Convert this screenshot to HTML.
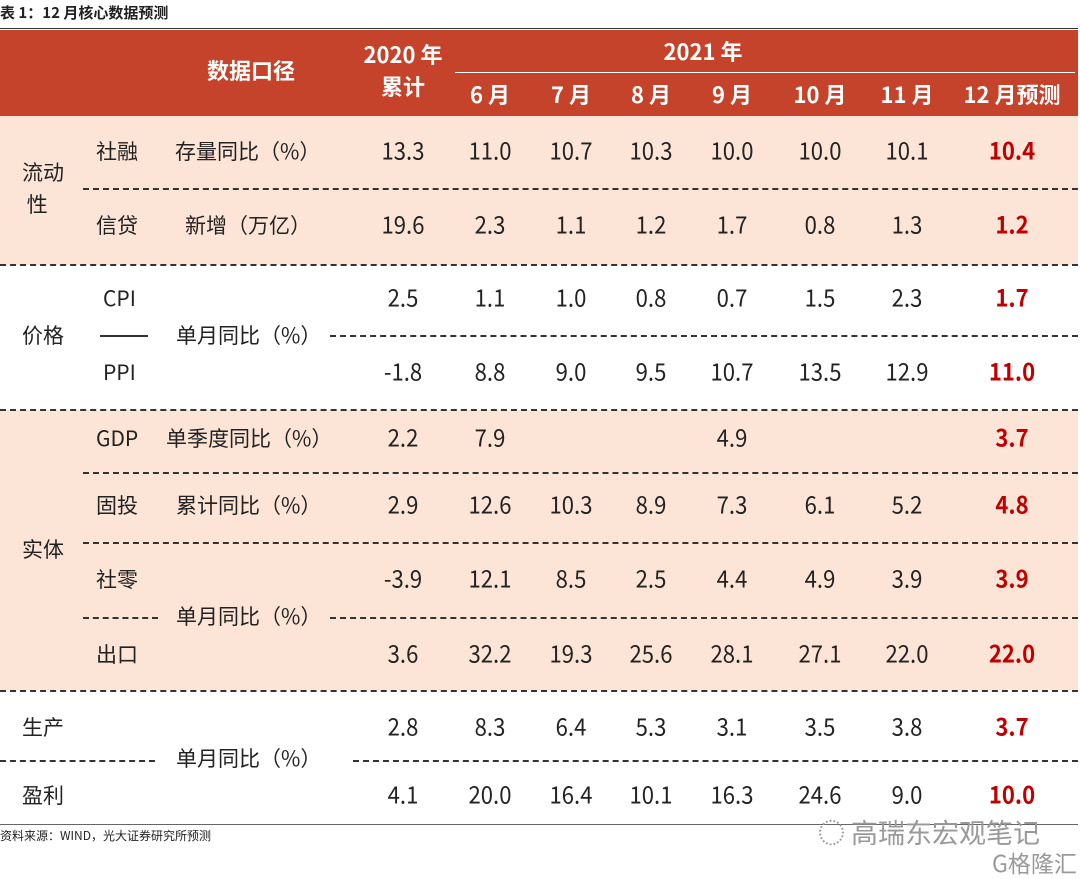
<!DOCTYPE html><html><head><meta charset="utf-8"><style>
body{margin:0;width:1080px;height:878px;background:#fff;position:relative;overflow:hidden;font-family:"Liberation Sans","Noto Sans CJK SC",sans-serif;color:#222}
.a{position:absolute;white-space:nowrap}
.c{transform:translateX(-50%);text-align:center}
.n{font-family:"Noto Sans CJK SC",sans-serif;font-size:24px;transform:translate(-50%,-50%) scaleX(0.92);margin-top:-2px}
.r{color:#c00000;font-weight:bold}
.h{color:#fff;font-weight:bold;font-size:22px;font-family:"Noto Sans CJK SC",sans-serif}
.l{position:absolute;height:0;border-top:2px solid #333}
.d{border-top-style:dashed}
.t{font-size:21px;transform:translateY(-50%);font-family:"Noto Sans CJK SC",sans-serif}
</style></head><body>
<div class="a" style="left:0;top:2px;font-size:15px;font-weight:bold;font-family:'Noto Sans CJK SC',sans-serif">表 1：12 月核心数据预测</div>
<div class="l" style="left:0;top:28px;width:1078px;border-top-width:1px"></div>
<div class="a" style="left:0;top:30px;width:1078px;height:86px;background:#c4432a"></div>
<div class="a" style="left:0;top:116px;width:1078px;height:149px;background:#fce4d6"></div>
<div class="a" style="left:0;top:410px;width:1078px;height:280px;background:#fce4d6"></div>
<div class="l" style="left:455px;top:72px;width:620px;border-top:1px solid #fff"></div>
<div class="a h" style="left:207px;top:54px">数据口径</div>
<div class="a h c" style="left:403px;top:38px;line-height:32px">2020 年<br>累计</div>
<div class="a h c" style="left:703px;top:35px">2021 年</div>
<div class="a h c" style="left:490px;top:78px">6 月</div>
<div class="a h c" style="left:571px;top:78px">7 月</div>
<div class="a h c" style="left:651px;top:78px">8 月</div>
<div class="a h c" style="left:732px;top:78px">9 月</div>
<div class="a h c" style="left:820px;top:78px">10 月</div>
<div class="a h c" style="left:907px;top:78px">11 月</div>
<div class="a h c" style="left:1012px;top:78px">12 月预测</div>

<div class="l d" style="left:83px;top:188px;width:995px"></div>
<div class="l d" style="left:0;top:264px;width:1078px"></div>
<div class="l" style="left:100px;top:335px;width:48px"></div>
<div class="l d" style="left:330px;top:335px;width:748px"></div>
<div class="l d" style="left:0;top:409px;width:1078px"></div>
<div class="l d" style="left:83px;top:472px;width:995px"></div>
<div class="l d" style="left:83px;top:542px;width:995px"></div>
<div class="l d" style="left:83px;top:617px;width:75px"></div>
<div class="l d" style="left:330px;top:617px;width:748px"></div>
<div class="l d" style="left:0;top:690px;width:1078px"></div>
<div class="l d" style="left:0;top:760px;width:155px"></div>
<div class="l d" style="left:353px;top:760px;width:725px"></div>
<div class="l" style="left:0;top:824px;width:1078px;border-top:1px solid #666"></div>

<div class="a" style="left:22px;top:156px;font-size:21px;line-height:32px;font-family:'Noto Sans CJK SC',sans-serif">流动<br>&nbsp;性</div>
<div class="a t" style="left:96px;top:151px">社融</div><div class="a t" style="left:175px;top:151px">存量同比（%）</div>
<div class="a t" style="left:96px;top:225px">信贷</div><div class="a t" style="left:185px;top:225px">新增（万亿）</div>
<div class="a t" style="left:22px;top:335px">价格</div>
<div class="a t" style="left:103px;top:298px">CPI</div><div class="a t" style="left:103px;top:372px">PPI</div>
<div class="a t" style="left:176px;top:335px">单月同比（%）</div>
<div class="a t" style="left:22px;top:549px">实体</div>
<div class="a t" style="left:96px;top:438px">GDP</div><div class="a t" style="left:166px;top:438px">单季度同比（%）</div>
<div class="a t" style="left:96px;top:505px">固投</div><div class="a t" style="left:176px;top:505px">累计同比（%）</div>
<div class="a t" style="left:96px;top:579px">社零</div><div class="a t" style="left:96px;top:654px">出口</div>
<div class="a t" style="left:176px;top:616px">单月同比（%）</div>
<div class="a t" style="left:22px;top:727px">生产</div><div class="a t" style="left:22px;top:795px">盈利</div>
<div class="a t" style="left:176px;top:758px">单月同比（%）</div>

<div id="g"></div>
<div class="a" style="left:0;top:827px;font-size:12px;font-family:'Noto Sans CJK SC',sans-serif">资料来源：WIND，光大证券研究所预测</div>
<div class="a" style="left:818px;top:812px;font-size:27px;color:#999;font-family:'Noto Sans CJK SC',sans-serif">◌ 高瑞东宏观笔记</div>
<div class="a" style="left:992px;top:845px;font-size:23px;color:#999;font-family:'Noto Sans CJK SC',sans-serif">G格隆汇</div>
<script>
var xs=[403,490,571,651,732,820,907,1012];
var rows=[[151,"13.3 11.0 10.7 10.3 10.0 10.0 10.1 10.4"],[225,"19.6 2.3 1.1 1.2 1.7 0.8 1.3 1.2"],[298,"2.5 1.1 1.0 0.8 0.7 1.5 2.3 1.7"],[372,"-1.8 8.8 9.0 9.5 10.7 13.5 12.9 11.0"],[438,"2.2 7.9 _ _ 4.9 _ _ 3.7"],[505,"2.9 12.6 10.3 8.9 7.3 6.1 5.2 4.8"],[579,"-3.9 12.1 8.5 2.5 4.4 4.9 3.9 3.9"],[654,"3.6 32.2 19.3 25.6 28.1 27.1 22.0 22.0"],[727,"2.8 8.3 6.4 5.3 3.1 3.5 3.8 3.7"],[795,"4.1 20.0 16.4 10.1 16.3 24.6 9.0 10.0"]];
var h="";rows.forEach(function(r){r[1].split(" ").forEach(function(v,i){if(v!="_")h+='<div class="a n'+(i==7?' r':'')+'" style="left:'+xs[i]+'px;top:'+r[0]+'px">'+v+'</div>';});});
document.getElementById("g").innerHTML=h;
</script>
</body></html>
